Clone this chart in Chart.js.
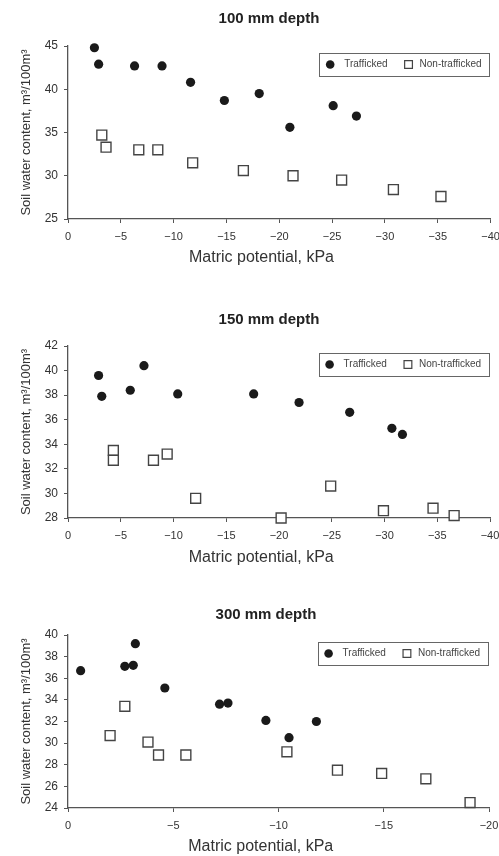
<!DOCTYPE html>
<html>
<head>
<meta charset="utf-8">
<script src="https://cdn.jsdelivr.net/npm/chart.js@4.4.1/dist/chart.umd.min.js"></script>
<style>
  body { margin: 0; background: #fff; width: 499px; }
  canvas { display: block; }
</style>
</head>
<body>
<canvas id="chart100" width="499" height="285"></canvas>
<canvas id="chart150" width="499" height="285"></canvas>
<canvas id="chart300" width="499" height="286"></canvas>
<script>
// 100 mm depth
const depth100TraffickedX = [-2.5, -2.9, -6.3, -8.9, -11.6, -14.8, -18.1, -21.0, -25.1, -27.3];
const depth100TraffickedY = [44.8, 42.9, 42.7, 42.7, 40.8, 38.7, 39.5, 35.6, 38.1, 36.9];
const depth100NonTraffickedX = [-3.2, -3.6, -6.7, -8.5, -11.8, -16.6, -21.3, -25.9, -30.8, -35.3];
const depth100NonTraffickedY = [34.7, 33.3, 33.0, 33.0, 31.5, 30.6, 30.0, 29.5, 28.4, 27.6];

// 150 mm depth
const depth150TraffickedX = [-2.9, -3.2, -5.9, -7.2, -10.4, -17.6, -21.9, -26.7, -30.7, -31.7];
const depth150TraffickedY = [39.6, 37.9, 38.4, 40.4, 38.1, 38.1, 37.4, 36.6, 35.3, 34.8];
const depth150NonTraffickedX = [-4.3, -4.3, -8.1, -9.4, -12.1, -20.2, -24.9, -29.9, -34.6, -36.6];
const depth150NonTraffickedY = [33.5, 32.7, 32.7, 33.2, 29.6, 28.0, 30.6, 28.6, 28.8, 28.2];

// 300 mm depth
const depth300TraffickedX = [-0.6, -2.7, -3.1, -3.2, -4.6, -7.2, -7.6, -9.4, -10.5, -11.8];
const depth300TraffickedY = [36.7, 37.1, 37.2, 39.2, 35.1, 33.6, 33.7, 32.1, 30.5, 32.0];
const depth300NonTraffickedX = [-2.0, -2.7, -3.8, -4.3, -5.6, -10.4, -12.8, -14.9, -17.0, -19.1];
const depth300NonTraffickedY = [30.7, 33.4, 30.1, 28.9, 28.9, 29.2, 27.5, 27.2, 26.7, 24.5];

const seriesLabels = ['Trafficked', 'Non-trafficked'];
const xAxisTitle = 'Matric potential, kPa';
const yAxisTitle = 'Soil water content, m\u00B3/100m\u00B3';

const FONT = '"Liberation Sans", Arial, sans-serif';
const INK = '#333';
const AXIS = '#555';

// Panel heading, drawn a little right of the canvas centre as in the original
const panelTitle = {
  id: 'panelTitle',
  afterDraw(chart, args, opts) {
    const ctx = chart.ctx;
    ctx.save();
    ctx.fillStyle = '#222';
    ctx.font = 'bold 15px ' + FONT;
    ctx.textAlign = 'center';
    ctx.textBaseline = 'middle';
    ctx.fillText(opts.text, opts.x, opts.y);
    ctx.restore();
  }
};

// Boxed legend in the top right corner of the plot
const boxedLegend = {
  id: 'boxedLegend',
  afterDraw(chart) {
    const ctx = chart.ctx;
    const area = chart.chartArea;
    const sets = chart.data.datasets;
    ctx.save();
    ctx.font = '10px ' + FONT;
    const w1 = ctx.measureText(sets[0].label).width;
    const w2 = ctx.measureText(sets[1].label).width;
    const right = area.right;
    const left = right - (25 + w1 + 21 + 11 + w2 + 9);
    const top = area.top + 7;
    const bottom = area.top + 30;
    const cy = (top + bottom) / 2;

    ctx.strokeStyle = '#666';
    ctx.lineWidth = 1;
    ctx.strokeRect(Math.round(left) + 0.5, Math.round(top) + 0.5, Math.round(right - left) - 1, bottom - top);

    // marker 1
    ctx.fillStyle = sets[0].backgroundColor;
    ctx.strokeStyle = sets[0].borderColor;
    Chart.helpers.drawPoint(ctx, { pointStyle: 'circle', radius: 4.3, rotation: 0, borderWidth: 0 }, left + 11, cy);
    // marker 2
    const sx = left + 25 + w1 + 21;
    ctx.fillStyle = sets[1].backgroundColor;
    ctx.strokeStyle = sets[1].borderColor;
    ctx.lineWidth = 1.2;
    Chart.helpers.drawPoint(ctx, { pointStyle: 'rect', radius: 5.5, rotation: 0, borderWidth: 1.2 }, sx, cy);

    ctx.fillStyle = '#444';
    ctx.textBaseline = 'middle';
    ctx.textAlign = 'left';
    ctx.fillText(sets[0].label, left + 25, cy);
    ctx.fillText(sets[1].label, sx + 11, cy);
    ctx.restore();
  }
};

function toPoints(xs, ys) {
  return xs.map((x, i) => ({ x: x, y: ys[i] }));
}

function minusLabel(v) {
  return v === 0 ? '0' : '\u2212' + Math.abs(v);
}

function makeChart(id, cfg) {
  new Chart(document.getElementById(id), {
    type: 'scatter',
    data: {
      datasets: [
        {
          label: seriesLabels[0],
          data: toPoints(cfg.tx, cfg.ty),
          pointStyle: 'circle',
          pointRadius: 4.6,
          backgroundColor: '#1a1a1a',
          borderColor: '#1a1a1a',
          borderWidth: 0,
          clip: false
        },
        {
          label: seriesLabels[1],
          data: toPoints(cfg.nx, cfg.ny),
          pointStyle: 'rect',
          pointRadius: 7,
          backgroundColor: '#fff',
          borderColor: '#444',
          borderWidth: 1.4,
          clip: false
        }
      ]
    },
    options: {
      responsive: false,
      animation: false,
      layout: { padding: { left: 0, right: 0, top: cfg.plotTop, bottom: cfg.padBottom } },
      plugins: {
        panelTitle: { text: cfg.title, x: cfg.titleX, y: cfg.titleY },
        legend: { display: false },
        tooltip: { enabled: false }
      },
      scales: {
        x: {
          type: 'linear',
          reverse: true,
          min: cfg.xMin,
          max: 0,
          afterFit: s => { s.height = cfg.xHeight; s.paddingRight = cfg.padRight; },
          ticks: {
            stepSize: 5,
            padding: 7,
            color: INK,
            font: { family: FONT, size: 11 },
            callback: v => minusLabel(v)
          },
          grid: { drawOnChartArea: false, color: AXIS, tickLength: 4 },
          border: { color: AXIS, width: 1.3 },
          title: {
            display: true,
            text: xAxisTitle + '        ',
            color: INK,
            font: { family: FONT, size: 16 },
            padding: { top: 0, bottom: 0 }
          }
        },
        y: {
          min: cfg.yMin,
          max: cfg.yMax,
          afterFit: s => { s.width = 68; },
          ticks: {
            stepSize: cfg.yStep,
            padding: 6,
            color: INK,
            font: { family: FONT, size: 12 }
          },
          grid: { drawOnChartArea: false, color: AXIS, tickLength: 4 },
          border: { color: AXIS, width: 1.3 },
          title: {
            display: true,
            text: yAxisTitle,
            color: INK,
            font: { family: FONT, size: 13 },
            padding: { top: 19, bottom: 0 }
          }
        }
      }
    },
    plugins: [panelTitle, boxedLegend]
  });
}

makeChart('chart100', {
  title: '100 mm depth',
  tx: depth100TraffickedX, ty: depth100TraffickedY,
  nx: depth100NonTraffickedX, ny: depth100NonTraffickedY,
  xMin: -40, yMin: 25, yMax: 45, yStep: 5,
  titleX: 269, titleY: 19, plotTop: 46, xHeight: 48, padBottom: 18, padRight: 7
});

makeChart('chart150', {
  title: '150 mm depth',
  tx: depth150TraffickedX, ty: depth150TraffickedY,
  nx: depth150NonTraffickedX, ny: depth150NonTraffickedY,
  xMin: -40, yMin: 28, yMax: 42, yStep: 2,
  titleX: 269, titleY: 35, plotTop: 61, xHeight: 49, padBottom: 3, padRight: 9
});

makeChart('chart300', {
  title: '300 mm depth',
  tx: depth300TraffickedX, ty: depth300TraffickedY,
  nx: depth300NonTraffickedX, ny: depth300NonTraffickedY,
  xMin: -20, yMin: 24, yMax: 40, yStep: 2,
  titleX: 266, titleY: 45, plotTop: 65, xHeight: 48, padBottom: 0, padRight: 10
});
</script>
</body>
</html>
